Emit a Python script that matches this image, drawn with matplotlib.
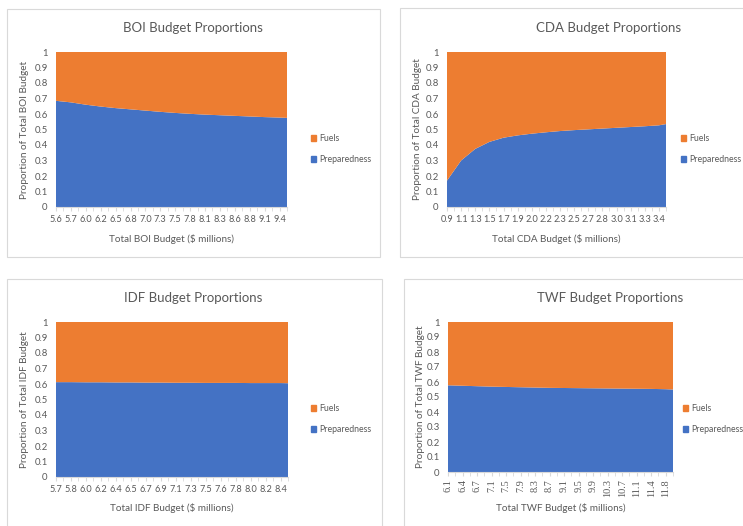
import numpy as np
import matplotlib
matplotlib.use("Agg")
import matplotlib.pyplot as plt
from matplotlib.patches import Patch, Rectangle

plt.rcParams["font.family"] = ["Lato", "DejaVu Sans"]

W, H = 743, 526
TEXT = "#595959"
ORANGE = "#ED7D31"
BLUE = "#4472C4"
EDGE = "#D9D9D9"

# --- data (labelled categories + final category) ---
boi_labels = ["5.6", "5.7", "6.0", "6.2", "6.5", "6.8", "7.0", "7.3",
              "7.5", "7.8", "8.1", "8.3", "8.6", "8.8", "9.1", "9.4"]
boi_prep = [0.685, 0.675, 0.660, 0.648, 0.638, 0.630, 0.622, 0.614, 0.607,
            0.601, 0.596, 0.592, 0.588, 0.584, 0.580, 0.577, 0.575]

cda_labels = ["0.9", "1.1", "1.3", "1.5", "1.7", "1.9", "2.0", "2.2",
              "2.3", "2.5", "2.7", "2.8", "3.0", "3.1", "3.3", "3.4"]
cda_prep = [0.170, 0.300, 0.375, 0.420, 0.447, 0.462, 0.473, 0.482, 0.490,
            0.496, 0.501, 0.506, 0.511, 0.516, 0.521, 0.527, 0.535]

idf_labels = ["5.7", "5.8", "6.0", "6.2", "6.4", "6.5", "6.7", "6.9",
              "7.1", "7.3", "7.5", "7.6", "7.8", "8.0", "8.2", "8.4"]
idf_prep = [0.612, 0.612, 0.611, 0.611, 0.610, 0.610, 0.609, 0.609, 0.608,
            0.608, 0.607, 0.607, 0.607, 0.606, 0.606, 0.606, 0.605]

twf_labels = ["6.1", "6.4", "6.7", "7.1", "7.5", "7.9", "8.3", "8.7",
              "9.1", "9.5", "9.9", "10.3", "10.7", "11.1", "11.4", "11.8"]
twf_prep = [0.578, 0.575, 0.572, 0.569, 0.567, 0.565, 0.563, 0.561, 0.560,
            0.559, 0.558, 0.557, 0.556, 0.555, 0.554, 0.552, 0.550]

series_names = ["Fuels", "Preparedness"]


def px_rect(left, top, right, bottom):
    return [left / W, 1 - bottom / H, (right - left) / W, (bottom - top) / H]


def draw_panel(fig, name, labels, prep, plot_box, title_xy, ylabel_x,
               xlabel_y, legend_xy, rotate=False):
    left, top, right, bottom = plot_box
    ax = fig.add_axes(px_rect(left, top, right, bottom))

    # labelled categories sit on every other tick, plus one last category
    x = list(range(0, 2 * len(labels), 2)) + [2 * len(labels) - 1]
    prep = np.array(prep)
    ax.stackplot(x, prep, 1 - prep, colors=[BLUE, ORANGE], linewidth=0)

    ax.set_xlim(0, x[-1])
    ax.set_ylim(0, 1)
    ax.set_yticks(np.arange(0, 1.01, 0.1))
    ax.set_yticklabels(["0"] + [f"{v:.1f}" for v in np.arange(0.1, 0.95, 0.1)] + ["1"])
    ax.set_xticks(x[:-1])
    ax.set_xticks(range(1, x[-1] + 1, 2), minor=True)
    if rotate:
        ax.set_xticklabels(labels, rotation=90, fontsize=7.4,
                           family=["Liberation Serif", "DejaVu Serif"])
        ax.tick_params(axis="x", which="both", length=3, color=EDGE, pad=2,
                       labelcolor=TEXT)
    else:
        ax.set_xticklabels(labels)
        ax.tick_params(axis="x", which="both", length=3, color=EDGE, pad=3,
                       labelsize=6.6, labelcolor=TEXT)

    for s in ["top", "right", "left"]:
        ax.spines[s].set_visible(False)
    ax.spines["bottom"].set_color(EDGE)
    ax.tick_params(axis="y", length=0, pad=6, labelsize=6.8, labelcolor=TEXT)

    fig.text(title_xy[0] / W, 1 - title_xy[1] / H, f"{name} Budget Proportions",
             ha="center", va="center", fontsize=9.5, color=TEXT)
    fig.text(ylabel_x / W, 1 - (top + bottom) / 2 / H,
             f"Proportion of Total {name} Budget", rotation=90,
             ha="center", va="center", fontsize=7.2, color=TEXT)
    fig.text((left + right) / 2 / W, 1 - xlabel_y / H,
             f"Total {name} Budget ($ millions)",
             ha="center", va="center", fontsize=7.1, color=TEXT)

    handles = [Patch(color=ORANGE), Patch(color=BLUE)]
    fig.legend(handles, series_names, loc="center left",
               bbox_to_anchor=(legend_xy[0] / W, 1 - legend_xy[1] / H),
               frameon=False, fontsize=6.3, labelcolor=TEXT,
               handlelength=0.6, handleheight=0.6, handletextpad=0.3,
               labelspacing=1.35, borderpad=0, borderaxespad=0)
    return ax


fig = plt.figure(figsize=(W / 100, H / 100), dpi=100)
fig.patch.set_facecolor("white")

for l, t, r, b in [(7, 9, 380, 257), (400, 8, 770, 257),
                   (7, 279, 382, 545), (404, 279, 770, 545)]:
    fig.add_artist(Rectangle((l / W, 1 - b / H), (r - l) / W, (b - t) / H,
                             transform=fig.transFigure, fill=False,
                             ec=EDGE, lw=0.8))

draw_panel(fig, "BOI", boi_labels, boi_prep, (56, 52, 287, 207),
           (193, 28), 25, 239, (311, 149))
draw_panel(fig, "CDA", cda_labels, cda_prep, (447, 52, 666, 207),
           (609, 28), 418, 239, (681, 149))
draw_panel(fig, "IDF", idf_labels, idf_prep, (56, 322, 288, 477),
           (193, 298), 25, 508, (311, 419))
draw_panel(fig, "TWF", twf_labels, twf_prep, (448, 322, 673, 472),
           (610, 298), 420, 508, (683, 419), rotate=True)

fig.savefig("out.png", dpi=100)
